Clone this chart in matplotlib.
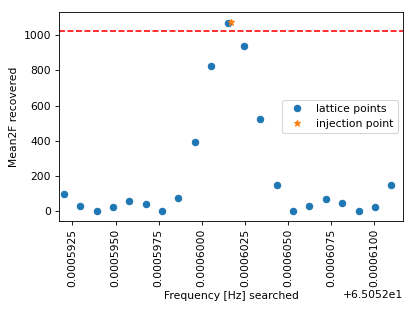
import numpy as np
import matplotlib
matplotlib.use("Agg")
import matplotlib.pyplot as plt

# frequencies are stored relative to this base [Hz]
freq_base = 65.052
freq_offsets = [0.000592, 0.00059295, 0.0005939, 0.00059485, 0.0005958, 0.00059675,
                0.0005977, 0.00059865, 0.0005996, 0.00060055, 0.0006015, 0.00060245,
                0.0006034, 0.00060435, 0.0006053, 0.00060625, 0.0006072, 0.00060815,
                0.0006091, 0.00061005, 0.000611]
mean2f = [102, 32, 0, 23, 60, 43, 0, 77, 392, 823, 1071, 936, 527, 152, 2, 30, 71,
          47, 3, 24, 149]

inj_offset = 0.0006017
inj_mean2f = 1077
threshold = 1023

xtick_offsets = [0.0005925, 0.0005950, 0.0005975, 0.0006000, 0.0006025,
                 0.0006050, 0.0006075, 0.0006100]

freqs = freq_base + np.array(freq_offsets)
inj_freq = freq_base + inj_offset

dpi = 77
fig = plt.figure(figsize=(415 / dpi, 311 / dpi), dpi=dpi)
ax = fig.add_subplot(111)
ax.plot(freqs, mean2f, 'o', label='lattice points')
ax.plot(inj_freq, inj_mean2f, '*', label='injection point')
ax.axhline(threshold, color='r', linestyle='--')

ax.set_xlim(inj_freq - 1e-5, inj_freq + 1e-5)
ax.set_xticks(freq_base + np.array(xtick_offsets))
ax.ticklabel_format(axis='x', useOffset=freq_base, style='plain')
plt.setp(ax.get_xticklabels(), rotation=90)

ax.set_xlabel('Frequency [Hz] searched')
ax.set_ylabel('Mean2F recovered')
ax.legend(loc='center right')

fig.subplots_adjust(left=0.1414, right=0.972, top=0.9614, bottom=0.2894)
fig.savefig('out.png', dpi=dpi)
